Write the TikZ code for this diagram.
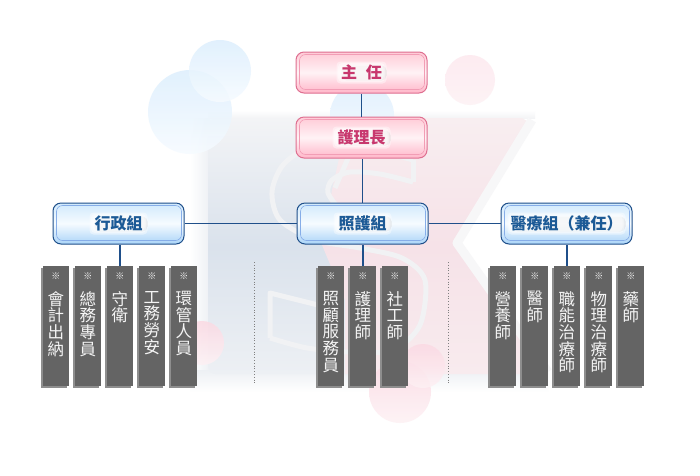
\documentclass[tikz,border=0pt]{standalone}
\usepackage{fontspec}
\usetikzlibrary{calc}
\newfontfamily\cjk{Noto Sans CJK TC}
\definecolor{linkblue}{HTML}{1F4F8A}
\definecolor{bluetext}{HTML}{1C5A96}
\definecolor{pinktext}{HTML}{C8386E}
\definecolor{pinkedge}{HTML}{DE6F90}
\definecolor{pinktop}{HTML}{FFCAD6}
\definecolor{pinkmid}{HTML}{FFF2F5}
\definecolor{pinkbot}{HTML}{FFB6C9}
\definecolor{pinkinner}{HTML}{F29DB5}
\definecolor{bluetop}{HTML}{D0E9FC}
\definecolor{bluemid}{HTML}{F6FBFF}
\definecolor{bluebot}{HTML}{AAD4F8}
\definecolor{blueinner}{HTML}{86ADE8}
\definecolor{barfill}{HTML}{646464}
\definecolor{barshade}{HTML}{8E8E8E}
\definecolor{stafftone}{HTML}{F4F4F4}
\definecolor{logoline}{HTML}{F1F2F4}
\definecolor{slatetop}{HTML}{F3F4F6}
\definecolor{slatemid}{HTML}{DAE2EC}
\definecolor{slatebot}{HTML}{EDF0F4}
\definecolor{rosetop}{HTML}{F8EEF0}
\definecolor{rosemid}{HTML}{F6E2E8}
\definecolor{rosebot}{HTML}{F8EBEE}
\definecolor{skytop}{HTML}{DCEEFD}
\definecolor{skybot}{HTML}{F6FBFF}
\definecolor{blushtop}{HTML}{FBD9E3}
\definecolor{blushbot}{HTML}{FDF1F4}
\tikzset{
  labelglow/.style={path picture={
    \fill[black, fill opacity=0.10, rounded corners=5pt] ([shift={(-#1+2pt,-8pt)}]path picture bounding box.center) rectangle ([shift={(#1+3pt,7pt)}]path picture bounding box.center);
    \foreach \glow in {0,1.5,3}
      \fill[white, fill opacity=0.4, rounded corners=4pt] ([shift={(-#1-\glow pt,-8pt-\glow pt)}]path picture bounding box.center) rectangle ([shift={(#1+\glow pt,8pt+\glow pt)}]path picture bounding box.center);
  }},
  labelbox/.style={draw=#1, line width=1pt, rounded corners=8pt, minimum width=131pt, minimum height=41pt, inner sep=0pt, font=\fontsize{16}{16}\cjk\bfseries},
  headbox/.style={labelbox=pinkedge, top color=pinktop, bottom color=pinkbot, middle color=pinkmid, text=pinktext},
  groupbox/.style={labelbox=linkblue, top color=bluetop, bottom color=bluebot, middle color=bluemid, text=bluetext},
  staffbar/.style={fill=barfill, minimum width=25.5pt, minimum height=120pt, inner sep=0pt, anchor=north west},
  stafftext/.style={text=stafftone, anchor=north, align=center, inner sep=0pt, font=\fontsize{16.5}{16.7}\cjk},
  link/.style={draw=linkblue, line width=1.1pt},
  blob/.style={shading angle=#1, opacity=0.85}
}
\begin{document}
\begin{tikzpicture}[x=1pt, y=-1pt]
  \useasboundingbox (0,0) rectangle (700,475);
  \fill[white] (0,0) rectangle (700,475);
  \shade[left color=white, right color=slatebot] (190,118) rectangle (210,372);
  \shade[top color=slatebot, bottom color=white] (190,370) rectangle (548,392);
  \shade[top color=white, bottom color=slatetop] (208,110) rectangle (535,118);
  \shade[rounded corners=8pt, top color=slatetop, bottom color=slatebot, middle color=slatemid] (208,118) rectangle (400,374);
  \shade[top color=rosetop, bottom color=rosebot, middle color=rosemid] (348,118) -- (522,118) [rounded corners=4pt] -- (532,124) -- (458,243) [sharp corners] -- (548,374) -- (345,374) -- (345,300) -- (322,245) -- (332,190) -- cycle;
  \draw[line width=9pt, logoline!60!white, line join=round] (532,120) -- (457,243) -- (548,372);
  \draw[line width=5pt, logoline] (349,156) -- (335,188);
  \draw[line width=5pt, logoline, line join=round] (413,160) -- (413,182);
  \draw[line width=5pt, logoline, smooth] plot coordinates {(413,160) (362,148) (310,148) (283,165) (272,192) (280,220) (315,240) (360,248) (402,258) (425,280) (420,325) (393,350) (350,352) (307,348) (270,338)};
  \draw[line width=5pt, logoline, smooth] plot coordinates {(413,182) (380,174) (350,172) (332,180) (328,193) (340,210)};
  \draw[line width=5pt, logoline, line join=round] (270,338) -- (270,293) -- (318,305);
  \shade[blob=0, top color=skytop, bottom color=skybot] (190,112) circle (42);
  \shade[blob=0, top color=skytop, bottom color=skybot] (220,71) circle (31);
  \shade[blob=0, top color=skytop, bottom color=skybot] (362,115) circle (32);
  \shade[blob=45, top color=blushtop!60!white, bottom color=blushbot] (470,80) circle (25);
  \shade[blob=0, top color=blushtop, bottom color=blushbot] (400,392) circle (31);
  \shade[blob=0, top color=blushtop, bottom color=blushbot] (423,366) circle (22);
  \shade[blob=0, top color=blushtop, bottom color=blushbot] (202,343) circle (22);
  \draw[dotted, thick, gray] (254,262) -- (254,383);
  \draw[dotted, thick, gray] (448,262) -- (448,383);
  \node[headbox, labelglow=22pt] (zhuren) at (361.5,72.5) {主\hspace{5pt} 任};
  \node[headbox, labelglow=26pt] (huli) at (361.5,137.5) {護理長};
  \node[groupbox, labelglow=26pt] (xingzheng) at (118.5,223.5) {行政組};
  \node[groupbox, labelglow=26pt] (zhaohu) at (362.5,223.5) {照護組};
  \node[groupbox, labelglow=56pt] (yiliao) at (566.5,223.5) {醫療組（兼任）};
  \foreach \boxname/\boxcolor in {zhuren/pinkinner, huli/pinkinner, xingzheng/blueinner, zhaohu/blueinner, yiliao/blueinner}
    \draw[\boxcolor, rounded corners=6pt, line width=0.6pt] ($(\boxname.north west)+(4,3)$) rectangle ($(\boxname.south east)+(-3,-4)$);
  \foreach \barname/\barx/\bartext in {
    acct/43/會\\計\\出\\納, gen/75/總\\務\\專\\員, guard/107/守\\衛, safety/139/工\\務\\勞\\安, env/171/環\\管\\人\\員,
    care/318/照\\顧\\服\\務\\員, nurse/350/護\\理\\師, social/382/社\\工\\師,
    diet/490/營\\養\\師, doctor/522/醫\\師, occup/554/職\\能\\治\\療\\師, phys/586/物\\理\\治\\療\\師, pharm/618/藥\\師} {
    \fill[barshade] (\barx-2,268) rectangle (\barx+23.5,388);
    \node[staffbar] (\barname) at (\barx,266) {};
    \node[stafftext, font=\fontsize{9}{9}\cjk, text=white] (\barname mark) at ($(\barname.north)+(0,7)$) {※};
    \node[stafftext] (\barname text) at ($(\barname.north)+(0,25)$) {\bartext};
  }
  \draw[link] (zhuren.south -| huli.south) -- (huli.north);
  \draw[link] (zhaohu.north) -- (zhaohu.north |- huli.south);
  \draw[link] (xingzheng) -- (zhaohu);
  \draw[link] (zhaohu) -- (yiliao);
  \draw[link] (guard.north) -- (guard.north |- xingzheng.south);
  \draw[link] (nurse.north) -- (nurse.north |- zhaohu.south);
  \draw[link] (occup.north) -- (occup.north |- yiliao.south);
\end{tikzpicture}
\end{document}
